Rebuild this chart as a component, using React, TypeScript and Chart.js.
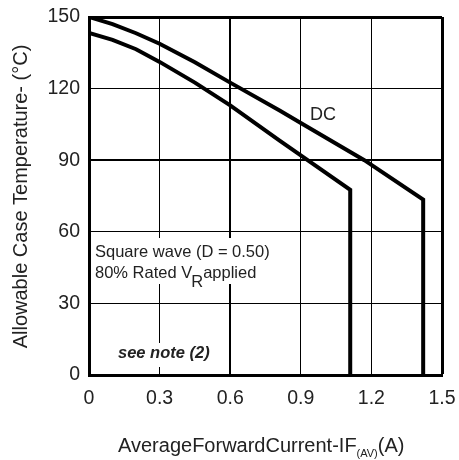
import React, { useEffect, useRef } from "react";
import { Chart, registerables } from "chart.js";

Chart.register(...registerables);

const X_TICKS = [0, 0.3, 0.6, 0.9, 1.2, 1.5];
const X_TICK_LABELS = ["0", "0.3", "0.6", "0.9", "1.2", "1.5"];
const Y_TICKS = [0, 30, 60, 90, 120, 150];
const Y_TICK_LABELS = ["0", "30", "60", "90", "120", "150"];

const DC_X = [0, 0.1, 0.2, 0.3, 0.45, 0.6, 0.81, 0.9, 1.17, 1.42, 1.42];
const DC_Y = [150, 147, 143.2, 138.8, 131, 122.5, 110.8, 105.6, 90, 73.5, 0];

const SQ_X = [0, 0.1, 0.2, 0.3, 0.45, 0.6, 0.81, 0.9, 1.11, 1.11];
const SQ_Y = [143.3, 140.4, 136.5, 131.2, 122.5, 113, 98.2, 92, 77.6, 0];

const FONT = "'Liberation Sans', Arial, sans-serif";
const TEXT = "#222";

const X_TITLE_MAIN = "AverageForwardCurrent-IF";
const X_TITLE_SUB = "(AV)";
const X_TITLE_END = "(A)";
const Y_TITLE = "Allowable Case Temperature- (°C)";
const NOTE_1 = "Square wave (D = 0.50)";
const NOTE_2A = "80% Rated V";
const NOTE_2B = "R";
const NOTE_2C = "applied";
const NOTE_3 = "see note (2)";
const DC_LABEL = "DC";

const textPlugin = {
  id: "textPlugin",
  afterDatasetsDraw(chart: any) {
    const ctx = chart.ctx;
    ctx.save();
    ctx.fillStyle = "#fff";
    ctx.fillRect(92, 238, 183, 46);
    ctx.fillRect(115, 343, 99, 24);

    ctx.fillStyle = TEXT;
    ctx.textAlign = "left";
    ctx.textBaseline = "alphabetic";
    ctx.font = `16.5px ${FONT}`;
    ctx.fillText(NOTE_1, 95, 257);
    ctx.fillText(NOTE_2A, 95, 278);
    let x = 95 + ctx.measureText(NOTE_2A).width - 1;
    ctx.fillText(NOTE_2B, x, 287);
    x += ctx.measureText(NOTE_2B).width;
    ctx.fillText(NOTE_2C, x, 278);

    ctx.font = `italic bold 16.5px ${FONT}`;
    ctx.fillText(NOTE_3, 118, 358);

    ctx.font = `18px ${FONT}`;
    ctx.fillText(DC_LABEL, 310, 120);

    ctx.font = `20px ${FONT}`;
    let tx = 118;
    ctx.fillText(X_TITLE_MAIN, tx, 452);
    tx += ctx.measureText(X_TITLE_MAIN).width;
    ctx.font = `11px ${FONT}`;
    ctx.fillText(X_TITLE_SUB, tx, 457);
    tx += ctx.measureText(X_TITLE_SUB).width;
    ctx.font = `20px ${FONT}`;
    ctx.fillText(X_TITLE_END, tx, 452);

    ctx.translate(27, 196.5);
    ctx.rotate(-Math.PI / 2);
    ctx.textAlign = "center";
    ctx.fillText(Y_TITLE, 0, 0);
    ctx.restore();
  },
};

const near = (a: number, b: number) => Math.abs(a - b) < 1e-6;

export default function App() {
  const ref = useRef<HTMLCanvasElement>(null);
  useEffect(() => {
    const canvas = ref.current!;
    const chart = new Chart(canvas, {
      type: "scatter",
      data: {
        datasets: [
          {
            label: "DC",
            data: DC_X.map((x, i) => ({ x, y: DC_Y[i] })),
            showLine: true,
            borderColor: "#000",
            borderWidth: 4,
            pointRadius: 0,
            tension: 0,
          },
          {
            label: "Square wave",
            data: SQ_X.map((x, i) => ({ x, y: SQ_Y[i] })),
            showLine: true,
            borderColor: "#000",
            borderWidth: 4,
            pointRadius: 0,
            tension: 0,
          },
        ],
      },
      options: {
        animation: false,
        responsive: false,
        devicePixelRatio: 1,
        layout: { padding: { top: 17, right: 17, left: 0, bottom: 0 } },
        plugins: { legend: { display: false }, tooltip: { enabled: false } },
        scales: {
          x: {
            type: "linear",
            min: 0,
            max: 1.5,
            afterBuildTicks: (s: any) => {
              s.ticks = X_TICKS.map((v) => ({ value: v }));
            },
            afterFit: (s: any) => {
              s.height = 85;
              s.paddingLeft = 0;
              s.paddingRight = 0;
              s.paddingTop = 0;
              s.paddingBottom = 0;
            },
            grid: {
              color: "#000",
              drawTicks: false,
              lineWidth: (c: any) =>
                c.tick && near(c.tick.value, 1.5) ? 3 : c.tick && near(c.tick.value, 0.6) ? 2 : 1,
            },
            border: { display: true, color: "#000", width: 3 },
            ticks: {
              padding: 12,
              color: TEXT,
              font: { family: FONT, size: 19.5 },
              maxRotation: 0,
              callback: (_v: any, i: number) => X_TICK_LABELS[i],
            },
          },
          y: {
            type: "linear",
            min: 0,
            max: 150,
            afterBuildTicks: (s: any) => {
              s.ticks = Y_TICKS.map((v) => ({ value: v }));
            },
            afterFit: (s: any) => {
              s.width = 89;
              s.paddingLeft = 0;
              s.paddingRight = 0;
              s.paddingTop = 0;
              s.paddingBottom = 0;
            },
            grid: {
              color: "#000",
              drawTicks: false,
              lineWidth: (c: any) =>
                c.tick && near(c.tick.value, 150) ? 3 : c.tick && near(c.tick.value, 90) ? 2 : 1,
            },
            border: { display: true, color: "#000", width: 3 },
            ticks: {
              padding: 9,
              color: TEXT,
              font: { family: FONT, size: 19.5 },
              callback: (_v: any, i: number) => Y_TICK_LABELS[i],
            },
          },
        },
      },
      plugins: [textPlugin],
    } as any);
    return () => chart.destroy();
  }, []);
  return (
    <div style={{ position: "absolute", left: 0, top: 0, width: 459, height: 460, background: "#fff" }}>
      <canvas ref={ref} width={459} height={460} style={{ display: "block", width: 459, height: 460 }} />
    </div>
  );
}
